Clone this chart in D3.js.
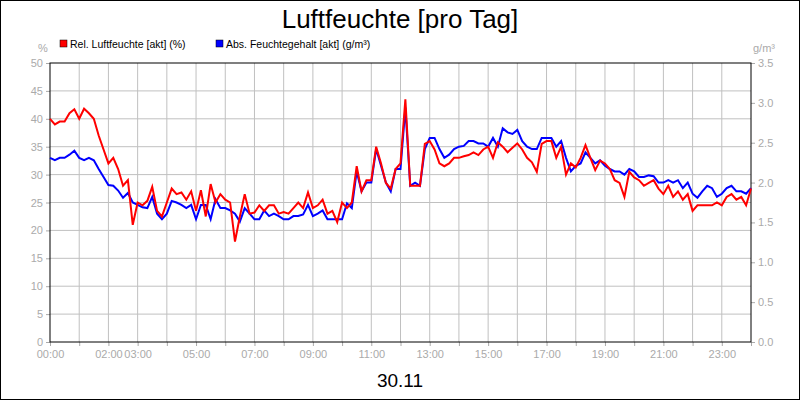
<!DOCTYPE html>
<html><head><meta charset="utf-8">
<script src="https://cdn.jsdelivr.net/npm/d3@7"></script>
<style>body{margin:0;background:#fff}text{font-family:"Liberation Sans",Arial,sans-serif}</style>
</head><body><svg id="c" width="800" height="400"></svg>
<script>
// 10-minute samples, 00:00 .. 24:00
const relHum = [
  40,39,39.5,39.5,41,41.7, 40,41.8,41,40,37,34.5, 32,33,31,28,29,21,
  25,24.5,25.3,27.8,23.5,22.5, 25,27.5,26.5,26.8,25.5,27, 23.5,27.2,22.5,28.3,25,26.5,
  25.5,25,18,22.5,26.5,23, 23.2,24.5,23.5,24.5,24.5,23, 23.3,23,24,25,24,26.8,
  24,24.5,25.5,23,23.5,21.5, 25,24,25,31.5,27,29, 29,35,32,28.5,27.5,31,
  32,43.5,28,28,28,35.5, 36,34.5,32,31.5,32,33, 33,33.3,33.5,34,33.5,34.5,
  35,33,35.8,35,34,34.8, 35.6,34.5,33,32.2,30.5,35.5, 36,36,33,35,30,32,
  31.3,33,35.3,33,30.8,32.5, 32,31,29,28.5,26,30.5, 29.5,29,28,28.5,29,27.5,
  26.5,28,26,27,25.5,26.5, 23.5,24.5,24.5,24.5,24.5,25, 24.5,26,26.5,25.5,26,24.5,27.5
];
const absHum = [
  2.31,2.28,2.31,2.31,2.35,2.40, 2.31,2.28,2.31,2.28,2.17,2.07, 1.97,1.96,1.90,1.81,1.87,1.75,
  1.72,1.69,1.68,1.82,1.61,1.54, 1.61,1.77,1.75,1.72,1.68,1.72, 1.54,1.72,1.72,1.54,1.79,1.68,
  1.68,1.65,1.61,1.51,1.68,1.61, 1.54,1.54,1.65,1.58,1.61,1.58, 1.54,1.54,1.58,1.58,1.60,1.72,
  1.58,1.61,1.65,1.54,1.54,1.54, 1.54,1.74,1.68,2.14,1.89,2.00, 2.00,2.42,2.21,2.00,1.89,2.17,
  2.17,2.94,1.96,2.00,1.96,2.42, 2.56,2.56,2.42,2.31,2.35,2.42, 2.45,2.46,2.52,2.52,2.49,2.49,
  2.45,2.56,2.45,2.68,2.63,2.61, 2.66,2.52,2.45,2.42,2.42,2.56, 2.56,2.56,2.45,2.52,2.31,2.14,
  2.21,2.24,2.38,2.31,2.24,2.28, 2.21,2.17,2.14,2.14,2.10,2.17, 2.14,2.07,2.07,2.09,2.08,2.00,
  2.00,2.03,2.00,2.03,1.93,2.00, 1.86,1.81,1.89,1.96,1.93,1.82, 1.86,1.93,1.96,1.89,1.89,1.86,1.93
];
const hourLabels = [0,2,3,5,7,9,11,13,15,17,19,21,23];
const leftTicks = d3.range(0, 51, 5);
const rightTicks = d3.range(0, 3.51, 0.5);

const svg = d3.select("#c");
const L = 50, R = 751, T = 63, B = 342;
const x = d3.scaleLinear().domain([0, 24]).range([L, R]);
const yL = d3.scaleLinear().domain([0, 50]).range([B, T]);
const yR = d3.scaleLinear().domain([0, 3.5]).range([B, T]);
const grey = "#aaa";

svg.append("rect").attr("x",0.5).attr("y",0.5).attr("width",799).attr("height",399)
  .attr("fill","#fff").attr("stroke","#000");

svg.append("text").attr("x",400).attr("y",28).attr("text-anchor","middle")
  .attr("font-size",26).text("Luftfeuchte [pro Tag]");

// legend
const leg = [["Rel. Luftfeuchte [akt] (%)","#f00",60],["Abs. Feuchtegehalt [akt] (g/m³)","#00f",216]];
leg.forEach(([t,c,lx]) => {
  svg.append("rect").attr("x",lx).attr("y",40).attr("width",7).attr("height",7)
    .attr("fill",c).attr("stroke","#000").attr("stroke-width",0.5);
  svg.append("text").attr("x",lx+10).attr("y",48).attr("font-size",10.5).text(t);
});
svg.append("text").attr("x",43).attr("y",52).attr("text-anchor","middle").attr("font-size",11).attr("fill",grey).text("%");
svg.append("text").attr("x",764).attr("y",52).attr("text-anchor","middle").attr("font-size",11).attr("fill",grey).text("g/m³");

// grid
const g = svg.append("g");
g.selectAll(".vg").data(d3.range(1,24)).join("line")
  .attr("x1",d=>x(d)).attr("x2",d=>x(d)).attr("y1",T).attr("y2",B).attr("stroke","#c0c0c0");
g.selectAll(".hg").data(leftTicks.slice(1,-1)).join("line")
  .attr("x1",L).attr("x2",R).attr("y1",d=>yL(d)).attr("y2",d=>yL(d)).attr("stroke","#c0c0c0");

// axes
const ax = (sel) => { sel.select(".domain").remove(); sel.selectAll("line").attr("stroke",grey);
  sel.selectAll("text").attr("fill",grey).attr("font-size",11).attr("font-family","'Liberation Sans Narrow','DejaVu Sans Condensed',sans-serif"); };
svg.append("g").attr("transform",`translate(${L},0)`)
  .call(d3.axisLeft(yL).tickValues(leftTicks).tickSize(4).tickPadding(3)).call(ax);
svg.append("g").attr("transform",`translate(${R},0)`)
  .call(d3.axisRight(yR).tickValues(rightTicks).tickFormat(d3.format(".1f")).tickSize(4).tickPadding(3)).call(ax);
svg.append("g").attr("transform",`translate(0,${B})`)
  .call(d3.axisBottom(x).tickValues(d3.range(0,25)).tickSize(4).tickPadding(4)
    .tickFormat(d => hourLabels.includes(d) ? String(d).padStart(2,"0")+":00" : "")).call(ax);

svg.append("rect").attr("x",L).attr("y",T).attr("width",R-L).attr("height",B-T)
  .attr("fill","none").attr("stroke","#000");

const t = i => i / 6;
svg.append("path").datum(absHum).attr("fill","none").attr("stroke","#00f").attr("stroke-width",2)
  .attr("d", d3.line().x((d,i)=>x(t(i))).y(d=>yR(d)));
svg.append("path").datum(relHum).attr("fill","none").attr("stroke","#f00").attr("stroke-width",2)
  .attr("d", d3.line().x((d,i)=>x(t(i))).y(d=>yL(d)));

svg.append("text").attr("x",400).attr("y",387).attr("text-anchor","middle").attr("font-size",19).text("30.11");
</script></body></html>
